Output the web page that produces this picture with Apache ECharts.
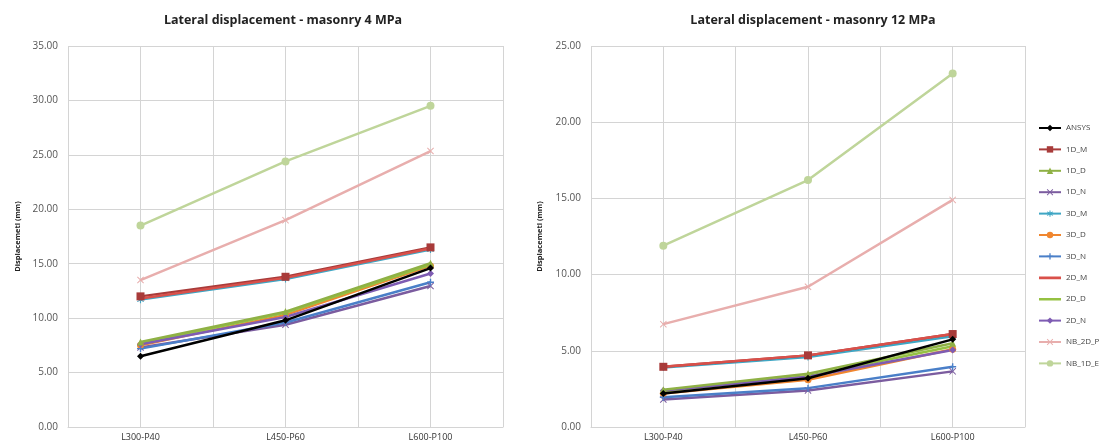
<!DOCTYPE html>
<html>
<head>
<meta charset="utf-8">
<script src="https://cdn.jsdelivr.net/npm/echarts@6/dist/echarts.min.js"></script>
<style>html,body{margin:0;padding:0;background:#fff;}#c{width:1117px;height:446px;}</style>
</head>
<body>
<div id="c"></div>
<script>
// ---- data ----
var categories = ['L300-P40', 'L450-P60', 'L600-P100'];
var seriesNames = ['ANSYS','1D_M','1D_D','1D_N','3D_M','3D_D','3D_N','2D_M','2D_D','2D_N','NB_2D_P','NB_1D_E'];
var yTicks4 = [0, 35, 5];
var yTicks12 = [0, 25, 5];

// masonry 4 MPa
var ansys4  = [6.5, 9.8, 14.6];
var m1d4    = [12.0, 13.8, 16.5];
var d1d4    = [7.8, 10.6, 15.05];
var n1d4    = [7.3, 9.4, 12.95];
var m3d4    = [11.7, 13.6, 16.3];
var d3d4    = [7.5, 10.3, 14.8];
var n3d4    = [7.2, 9.6, 13.3];
var m2d4    = [11.8, 13.7, 16.4];
var d2d4    = [7.7, 10.5, 14.9];
var n2d4    = [7.6, 10.1, 14.1];
var p2dnb4  = [13.5, 19.0, 25.35];
var e1dnb4  = [18.5, 24.4, 29.5];

// masonry 12 MPa
var ansys12 = [2.2, 3.2, 5.75];
var m1d12   = [3.95, 4.7, 6.1];
var d1d12   = [2.45, 3.5, 5.5];
var n1d12   = [1.8, 2.4, 3.65];
var m3d12   = [3.9, 4.6, 5.95];
var d3d12   = [2.2, 3.1, 5.1];
var n3d12   = [1.95, 2.55, 3.95];
var m2d12   = [3.95, 4.7, 6.1];
var d2d12   = [2.35, 3.35, 5.3];
var n2d12   = [2.4, 3.3, 5.05];
var p2dnb12 = [6.75, 9.2, 14.9];
var e1dnb12 = [11.9, 16.2, 23.2];

// ---- styles ----
var X = 'path://M1,0 L5,4 L9,0 L10,1 L6,5 L10,9 L9,10 L5,6 L1,10 L0,9 L4,5 L0,1 Z';
var PLUS = 'path://M4,0 H6 V4 H10 V6 H6 V10 H4 V6 H0 V4 H4 Z';
var STAR = 'path://M4.3,0 H5.7 V3.3 L8.6,1.6 L9.3,2.8 L6.4,4.5 V5.5 L9.3,7.2 L8.6,8.4 L5.7,6.7 V10 H4.3 V6.7 L1.4,8.4 L0.7,7.2 L3.6,5.5 V4.5 L0.7,2.8 L1.4,1.6 L4.3,3.3 Z';
var LINEICON = 'path://M0,0 L22,0 L22,0.01 Z M0,2.8 H22 V5.4 H0 Z M0,8 L22,8 L22,8.01 Z';
var styleMap = {
  'ANSYS':   {c:'#000000', s:'diamond', z:7},
  '1D_M':    {c:'#A83B3A', s:'rect', z:6, size:8},
  '1D_D':    {c:'#8FB145', s:'triangle', z:6},
  '1D_N':    {c:'#7B5C9F', s:X, z:5},
  '3D_M':    {c:'#3FA6C4', s:STAR, z:5},
  '3D_D':    {c:'#F0862F', s:'circle', z:5},
  '3D_N':    {c:'#4A7FC8', s:PLUS, z:5},
  '2D_M':    {c:'#D9504A', s:'none', z:6},
  '2D_D':    {c:'#95C142', s:'none', z:5},
  '2D_N':    {c:'#7E5CB3', s:'diamond', z:5},
  'NB_2D_P': {c:'#E8AEAD', s:X, z:4},
  'NB_1D_E': {c:'#BFD59A', s:'circle', z:4, size:8}
};
var data4 = [ansys4, m1d4, d1d4, n1d4, m3d4, d3d4, n3d4, m2d4, d2d4, n2d4, p2dnb4, e1dnb4];
var data12 = [ansys12, m1d12, d1d12, n1d12, m3d12, d3d12, n3d12, m2d12, d2d12, n2d12, p2dnb12, e1dnb12];

function mkSeries(arr, gi) {
  return seriesNames.map(function (n, i) {
    var st = styleMap[n];
    return {
      name: n, type: 'line', xAxisIndex: gi * 2, yAxisIndex: gi,
      data: arr[i], symbol: st.s, symbolSize: st.size || 7, showSymbol: st.s !== 'none',
      z: st.z, animation: false,
      lineStyle: {color: st.c, width: 2.5},
      itemStyle: {color: st.c}
    };
  });
}

var gridColor = '#D4D4D4';
var labelFont = {fontFamily: 'Open Sans', fontSize: 10, color: '#555'};

function yAxis(gi, t) {
  return {
    type: 'value', gridIndex: gi, min: t[0], max: t[1], interval: t[2],
    name: 'Displacemetl (mm)', nameLocation: 'middle', nameGap: gi === 0 ? 46 : 47,
    nameTextStyle: {fontFamily: 'Open Sans', fontSize: 7.5, fontWeight: 'bold', color: '#222'},
    axisLine: {show: false}, axisTick: {show: false},
    axisLabel: Object.assign({formatter: function (v) { return v.toFixed(2); }, margin: 10}, labelFont),
    splitLine: {show: true, lineStyle: {color: gridColor, width: 1}}
  };
}
function xCat(gi) {
  return {
    type: 'category', gridIndex: gi, data: categories, boundaryGap: true,
    axisLine: {show: true, lineStyle: {color: gridColor}}, axisTick: {show: false},
    axisLabel: Object.assign({margin: 6, interval: 0}, labelFont, {fontSize: 9, color: '#333'}),
    splitLine: {show: false}
  };
}
function xGrid(gi) {
  return {
    type: 'value', gridIndex: gi, min: 0, max: 6, interval: 1, position: 'top',
    axisLine: {show: false}, axisTick: {show: false}, axisLabel: {show: false},
    splitLine: {show: true, lineStyle: {color: gridColor, width: 1}}
  };
}

var legendData = seriesNames.map(function (n) {
  var st = styleMap[n];
  return st.s === 'none' ? {name: n, icon: LINEICON, itemStyle: {color: st.c}} : {name: n};
});

var chart = echarts.init(document.getElementById('c'), null, {renderer: 'canvas'});
chart.setOption({
  backgroundColor: '#fff',
  animation: false,
  title: [
    {text: 'Lateral displacement - masonry 4 MPa', left: 278, top: 9, textAlign: 'center',
     textStyle: {fontFamily: 'Open Sans', fontSize: 12.5, fontWeight: 'bold', color: '#222'}},
    {text: 'Lateral displacement - masonry 12 MPa', left: 808, top: 9, textAlign: 'center',
     textStyle: {fontFamily: 'Open Sans', fontSize: 12.5, fontWeight: 'bold', color: '#222'}}
  ],
  legend: {
    data: legendData, orient: 'vertical', left: 1033, top: 119,
    itemWidth: 22, itemHeight: 8, itemGap: 13.4,
    textStyle: {fontFamily: 'Open Sans', fontSize: 8, color: '#444'}
  },
  grid: [
    {left: 68, top: 46, width: 435, height: 381, containLabel: false},
    {left: 591, top: 46, width: 434, height: 381, containLabel: false}
  ],
  xAxis: [xCat(0), xGrid(0), xCat(1), xGrid(1)],
  yAxis: [yAxis(0, yTicks4), yAxis(1, yTicks12)],
  series: mkSeries(data4, 0).concat(mkSeries(data12, 1))
});
</script>
</body>
</html>
